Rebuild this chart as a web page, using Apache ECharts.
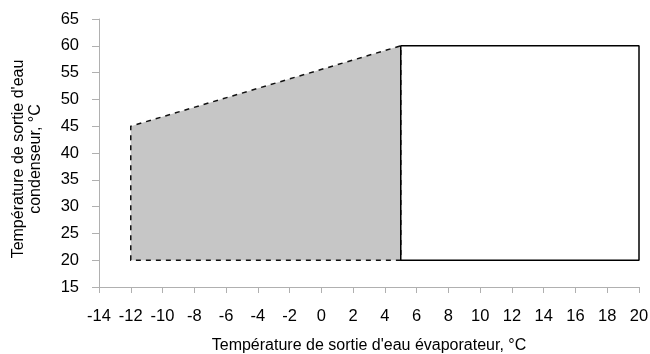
<!DOCTYPE html>
<html>
<head>
<meta charset="utf-8">
<script src="https://cdn.jsdelivr.net/npm/echarts@6/dist/echarts.min.js"></script>
<style>
  html, body { margin: 0; padding: 0; background: #fff; }
  #chart { width: 650px; height: 354px; }
</style>
</head>
<body>
<div id="chart"></div>
<script>
// Operating envelope: shaded extension zone (dashed outline) and standard zone (solid rectangle)
const extendedZoneX = [-12, -12, 5, 5];
const extendedZoneY = [20, 45, 60, 20];
const standardZoneX = [5, 5, 20, 20, 5];
const standardZoneY = [20, 60, 60, 20, 20];

const xTitle = "Température de sortie d'eau évaporateur, °C";
const yTitle = "Température de sortie d'eau\ncondenseur, °C";

const FONT = '"Liberation Sans", Arial, Helvetica, sans-serif';

const extendedPts = extendedZoneX.map((x, i) => [x, extendedZoneY[i]]);
const standardPts = standardZoneX.map((x, i) => [x, standardZoneY[i]]);

const chart = echarts.init(document.getElementById('chart'), null, { renderer: 'canvas' });

chart.setOption({
  animation: false,
  backgroundColor: '#ffffff',
  grid: { left: 99, right: 11, top: 19, bottom: 67, containLabel: false, outerBoundsMode: 'none' },
  xAxis: {
    type: 'value',
    min: -14, max: 20, interval: 2,
    name: xTitle,
    nameLocation: 'middle',
    nameGap: 51,
    nameTextStyle: { fontFamily: FONT, fontSize: 16, color: '#000' },
    axisLine: { onZero: false, lineStyle: { color: '#b0b0b0', width: 1 } },
    axisTick: { show: true, inside: false, length: 6, lineStyle: { color: '#b0b0b0' } },
    axisLabel: { fontFamily: FONT, fontSize: 16.5, color: '#000', margin: 21 },
    splitLine: { show: false }
  },
  yAxis: {
    type: 'value',
    min: 15, max: 65, interval: 5,
    name: yTitle,
    nameLocation: 'middle',
    nameGap: 55,
    nameTextStyle: {
      fontFamily: FONT, fontSize: 16, color: '#000', lineHeight: 17,
      align: 'center', padding: [0, 12, 0, 0]
    },
    axisLine: { show: true, onZero: false, lineStyle: { color: '#b0b0b0', width: 1 } },
    axisTick: { show: true, inside: false, length: 7, lineStyle: { color: '#b0b0b0' } },
    axisLabel: { fontFamily: FONT, fontSize: 16.5, color: '#000', margin: 20 },
    splitLine: { show: false }
  },
  series: [
    {
      type: 'custom',
      name: 'extended',
      coordinateSystem: 'cartesian2d',
      data: [0],
      encode: { x: [], y: [] },
      renderItem: function (params, api) {
        const points = extendedPts.map(p => api.coord(p));
        return {
          type: 'polygon',
          shape: { points: points },
          style: {
            fill: '#c6c6c6',
            stroke: '#111',
            lineWidth: 1.5,
            lineDash: [5, 5]
          }
        };
      },
      silent: true,
      z: 2
    },
    {
      type: 'line',
      name: 'standard',
      data: standardPts,
      showSymbol: false,
      symbol: 'none',
      lineStyle: { color: '#000', width: 1.5, type: 'solid' },
      silent: true,
      z: 3
    }
  ]
});
</script>
</body>
</html>
